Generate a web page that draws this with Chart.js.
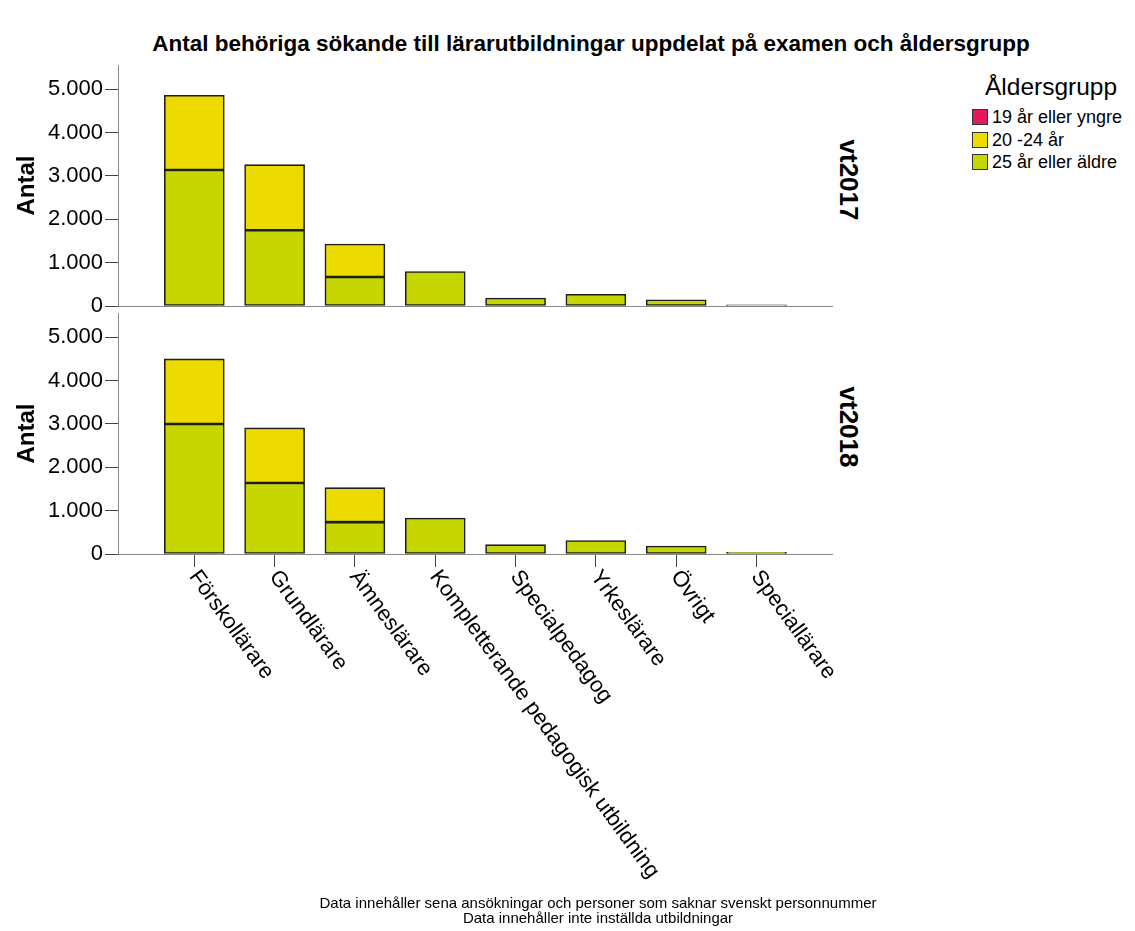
<!DOCTYPE html>
<html lang="sv">
<head>
<meta charset="utf-8">
<script src="https://cdn.jsdelivr.net/npm/chart.js@4"></script>
<style>
  body { margin: 0; width: 1135px; height: 931px; position: relative; overflow: hidden; background: #fff;
         font-family: "Liberation Sans", Arial, sans-serif; color: #000; }
  .abs { position: absolute; }
  #title { left: 591px; top: 31px; transform: translateX(-50%); white-space: nowrap; font-weight: bold; font-size: 22.5px; }
  #legendTitle { left: 985px; top: 73px; font-size: 24.5px; white-space: nowrap; }
  .item { left: 972px; height: 20px; font-size: 18px; white-space: nowrap; line-height: 20px; }
  .item span { display: inline-block; width: 14px; height: 14px; border: 1px solid #333; vertical-align: -2px; margin-right: 4px; }
  .strip { font-weight: bold; font-size: 26px; white-space: nowrap; transform: translate(-50%, -50%) rotate(90deg); }
  #footer { left: 598px; top: 895px; transform: translateX(-50%); text-align: center; font-size: 15px; line-height: 15px; white-space: nowrap; }
  canvas { position: absolute; left: 0; }
</style>
</head>
<body>
<div id="title" class="abs">Antal behöriga sökande till lärarutbildningar uppdelat på examen och åldersgrupp</div>
<div id="legendTitle" class="abs">Åldersgrupp</div>
<div id="legend"></div>
<div class="abs strip" style="left:848px; top:180px;">vt2017</div>
<div class="abs strip" style="left:848px; top:427px;">vt2018</div>
<canvas id="chart2017" width="1135" height="330" style="top:0px"></canvas>
<canvas id="chart2018" width="1135" height="638" style="top:293px"></canvas>
<div id="footer" class="abs">Data innehåller sena ansökningar och personer som saknar svenskt personnummer<br>Data innehåller inte inställda utbildningar</div>
<script>
const categories = ["Förskollärare", "Grundlärare", "Ämneslärare", "Kompletterande pedagogisk utbildning",
  "Specialpedagog", "Yrkeslärare", "Övrigt", "Speciallärare"];
const ageGroups = ["19 år eller yngre", "20 -24 år", "25 år eller äldre"];
const ageColors = ["#e2195a", "#eddb00", "#c6d600"];

// vt2017
const young2017 = [0, 0, 0, 0, 0, 0, 0, 0];
const mid2017 = [1720, 1510, 760, 0, 0, 0, 0, 0];
const old2017 = [3140, 1750, 670, 795, 185, 270, 145, 25];
// vt2018
const young2018 = [0, 0, 0, 0, 0, 0, 0, 0];
const mid2018 = [1500, 1270, 795, 0, 0, 0, 0, 0];
const old2018 = [3000, 1640, 735, 830, 215, 310, 185, 40];

const yTicks = [0, 1000, 2000, 3000, 4000, 5000];
const font = '"Liberation Sans", Arial, sans-serif';

// legend (red, yellow, green from top)
const legend = document.getElementById("legend");
const legendTops = [107, 129.5, 152];
ageGroups.forEach((g, i) => {
  const d = document.createElement("div");
  d.className = "abs item";
  d.style.top = legendTops[i] + "px";
  d.innerHTML = '<span style="background:' + ageColors[i] + '"></span>' + g;
  legend.appendChild(d);
});

function toPoints(arr) {
  return arr.map((v, i) => ({ x: i, y: v }));
}

function fmt(v) {
  return v === 0 ? "0" : (v / 1000) + ".000";
}

// draws the rotated category labels below the bottom panel
const xLabels = {
  id: "xLabels",
  afterDraw(chart) {
    if (!chart.options.plugins.xLabels.show) return;
    const ctx = chart.ctx;
    const xs = chart.scales.x;
    ctx.save();
    ctx.font = "22px " + font;
    ctx.fillStyle = "#000";
    ctx.textAlign = "left";
    ctx.textBaseline = "middle";
    categories.forEach((c, i) => {
      ctx.save();
      ctx.translate(xs.getPixelForValue(i) - 1, chart.chartArea.bottom + 19);
      ctx.rotate(54 * Math.PI / 180);
      ctx.fillText(c, 0, 0);
      ctx.restore();
    });
    ctx.restore();
  }
};

function makeChart(id, young, mid, old, bottom) {
  const h = bottom ? 638 : 330;
  new Chart(document.getElementById(id), {
    type: "bar",
    data: {
      datasets: [
        { label: ageGroups[2], data: toPoints(old), backgroundColor: ageColors[2] },
        { label: ageGroups[1], data: toPoints(mid), backgroundColor: ageColors[1] },
        { label: ageGroups[0], data: toPoints(young), backgroundColor: ageColors[0] },
      ],
    },
    options: {
      responsive: false,
      animation: false,
      layout: { padding: { top: bottom ? 20 : 65, right: 303, left: 0, bottom: 0 } },
      datasets: { bar: { barThickness: 60, borderWidth: 1.6, borderColor: "#1e1e1e", borderSkipped: false } },
      scales: {
        x: {
          type: "linear",
          stacked: true,
          offset: false,
          min: -0.95,
          max: 7.94,
          afterBuildTicks: (s) => { s.ticks = categories.map((c, i) => ({ value: i })); },
          afterFit: (s) => { s.height = bottom ? h - 261 : 24; },
          ticks: { display: false },
          grid: { offset: false, drawOnChartArea: false, drawTicks: bottom, tickLength: 13, color: "#444" },
          border: { color: "#888", width: 1 },
        },
        y: {
          stacked: true,
          min: 0,
          max: 5560,
          afterBuildTicks: (s) => { s.ticks = yTicks.map((v) => ({ value: v })); },
          afterFit: (s) => { s.width = 118; },
          ticks: { callback: fmt, color: "#000", padding: 2, font: { family: font, size: 22 } },
          grid: { drawOnChartArea: false, tickLength: 13, color: "#444" },
          border: { color: "#888", width: 1 },
          title: { display: true, text: "Antal", color: "#000", padding: { top: 13, bottom: 0 },
                   font: { family: font, size: 24, weight: "bold" } },
        },
      },
      plugins: {
        legend: { display: false },
        tooltip: { enabled: false },
        xLabels: { show: bottom },
      },
    },
    plugins: [xLabels],
  });
}

makeChart("chart2017", young2017, mid2017, old2017, false);
makeChart("chart2018", young2018, mid2018, old2018, true);
</script>
</body>
</html>
